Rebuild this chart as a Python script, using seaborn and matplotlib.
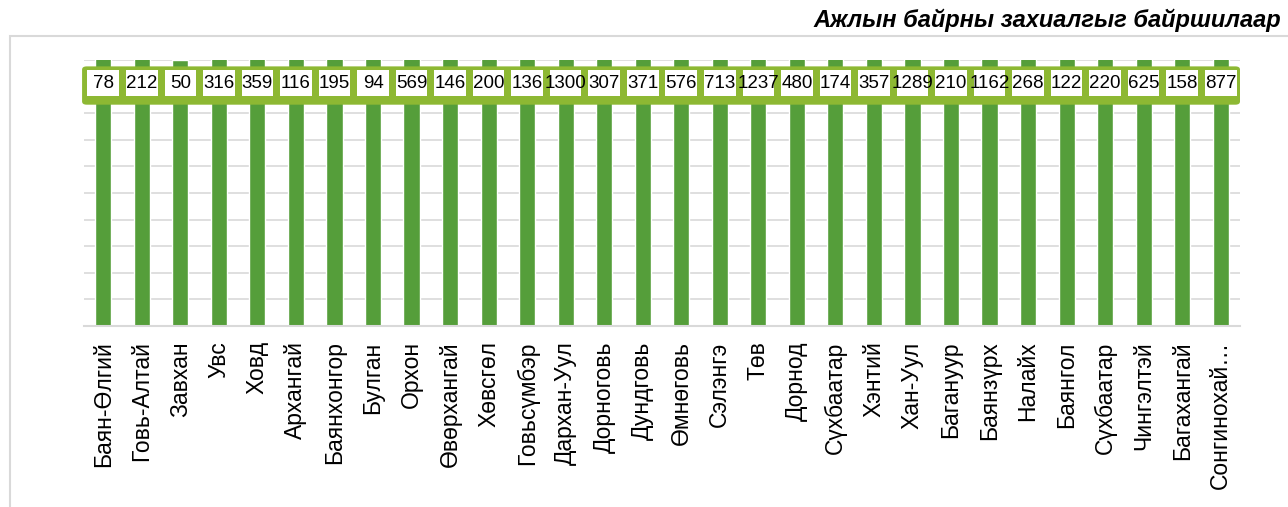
import numpy as np
import pandas as pd
import matplotlib
matplotlib.use("Agg")
import matplotlib.pyplot as plt
from matplotlib.patches import Rectangle, FancyBboxPatch
import seaborn as sns

# ── data ──────────────────────────────────────────────
places = ["Баян-Өлгий", "Говь-Алтай", "Завхан", "Увс", "Ховд", "Архангай",
          "Баянхонгор", "Булган", "Орхон", "Өвөрхангай", "Хөвсгөл",
          "Говьсүмбэр", "Дархан-Уул", "Дорноговь", "Дундговь", "Өмнөговь",
          "Сэлэнгэ", "Төв", "Дорнод", "Сүхбаатар", "Хэнтий", "Хан-Уул",
          "Багануур", "Баянзүрх", "Налайх", "Баянгол", "Сүхбаатар",
          "Чингэлтэй", "Багахангай", "Сонгинохай…"]
orders = [78, 212, 50, 316, 359, 116, 195, 94, 569, 146, 200,
          136, 1300, 307, 371, 576, 713, 1237, 480, 174, 357, 1289,
          210, 1162, 268, 122, 220, 625, 158, 877]
title = "Ажлын байрны захиалгыг байршилаар"

BAR  = "#559E3A"
LIME = "#8DB833"

sns.set_style("white")
plt.rcParams["font.family"] = ["Liberation Sans", "DejaVu Sans"]
plt.rcParams["text.color"] = "black"
plt.rcParams["xtick.color"] = "black"

df = pd.DataFrame({"idx": np.arange(len(places)), "val": orders})

fig = plt.figure(figsize=(12.88, 5.07), dpi=100)
ax  = fig.add_axes([84/1288, 1-326/507, (1240-84)/1288, (326-60)/507])

sns.barplot(data=df, x="idx", y="val", color=BAR, saturation=1,
            width=0.42, ax=ax, zorder=2)
ax.set_ylim(0, 50)
ax.set_xlim(-0.5, len(places)-0.5)
ax.set_yticks(np.arange(0, 51, 5))
ax.yaxis.grid(True, color="#D9D9D9", lw=1.2, zorder=0)
ax.tick_params(axis="y", left=False, labelleft=False)
ax.tick_params(axis="x", bottom=False, length=0, pad=11, labelcolor="black")
ax.set_xticks(df["idx"])
ax.set_xticklabels(places, rotation=90, fontsize=16.5, va="top")
ax.set_xlabel(""); ax.set_ylabel("")
for s in ["top", "left", "right"]:
    ax.spines[s].set_visible(False)
ax.spines["bottom"].set_color("#D9D9D9")
ax.spines["bottom"].set_linewidth(1.5)

# lime strip behind the value boxes
strip = FancyBboxPatch((-0.55, 41.6), len(places)+0.05, 7.2,
                       boxstyle="round,pad=0,rounding_size=0.12",
                       fc=LIME, ec="none", zorder=4, clip_on=False,
                       mutation_aspect=5)
ax.add_patch(strip)

# value labels in white boxes
for i, v in enumerate(orders):
    box = Rectangle((i-0.41, 43.2), 0.82, 4.9, fc="white", ec="none",
                    zorder=5, clip_on=False)
    ax.add_patch(box)
    t = ax.text(i, 45.6, f"{v}", ha="center", va="center", fontsize=13.5,
                color="black", zorder=6)
    t.set_clip_path(box)

# outer frame
fig.patches.append(Rectangle((10/1288, -0.05), 1.2, 1-36/507+0.05,
                             transform=fig.transFigure, fill=False,
                             ec="#D9D9D9", lw=1.5))
fig.text(1281/1288, 1-20/507, title, ha="right", va="center",
         fontsize=17, fontweight="bold", style="italic", color="black")

plt.savefig("out.png", dpi=100)
plt.close()
